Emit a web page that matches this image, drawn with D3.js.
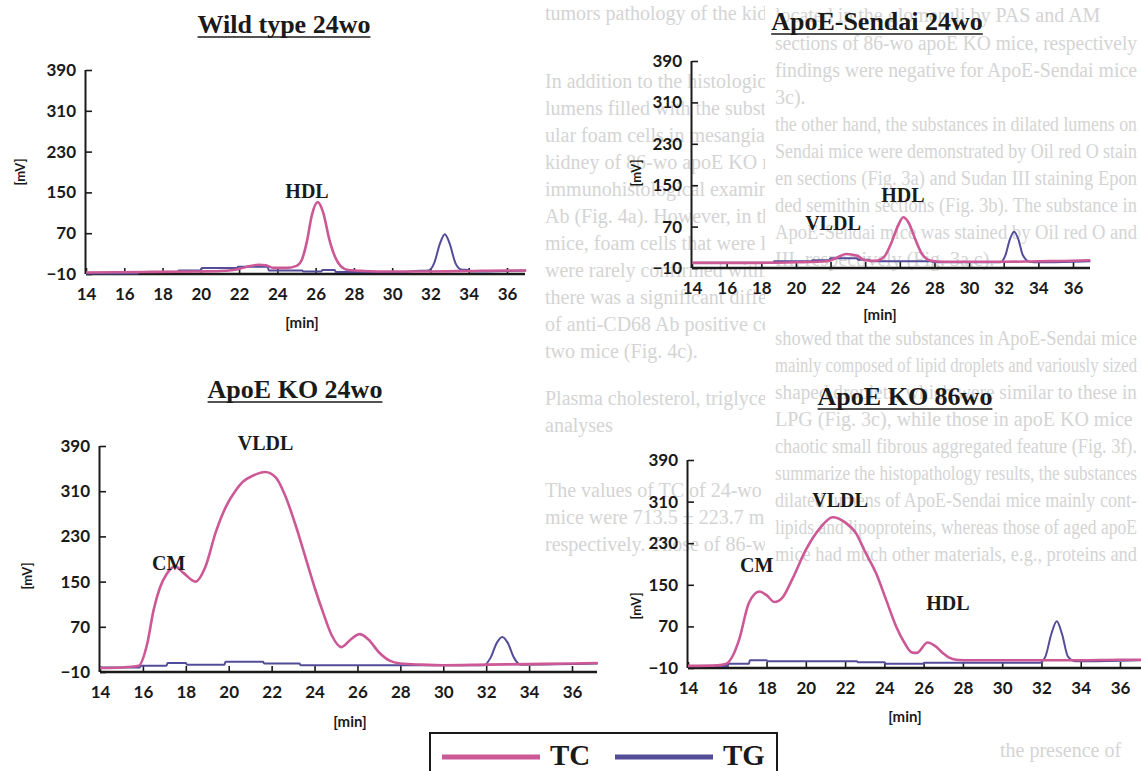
<!DOCTYPE html>
<html>
<head>
<meta charset="utf-8">
<title>Lipoprotein profiles - TC / TG</title>
<style>
  body { margin: 0; background: #fff; }
  svg { display: block; }
</style>
</head>
<body>
<script src="https://d3js.org/d3.v7.min.js"></script>
<script>
// ---- data (minutes / mV) ----
const xTicks = [14, 16, 18, 20, 22, 24, 26, 28, 30, 32, 34, 36];
const yTicks = [-10, 70, 150, 230, 310, 390];

// Wild type 24wo
const wtTcMin = [14, 17, 20, 21, 22, 22.5, 23, 23.4, 23.8, 24.5, 25, 25.3, 25.55, 25.8, 26.1, 26.4, 26.7, 27, 27.3, 27.7, 28.5, 30, 32, 34, 36, 37];
const wtTcMv  = [-7, -6, -5, -4, 0, 5, 8, 7, 2, 2, 6, 20, 55, 105, 131, 110, 60, 25, 6, -2, -4, -5, -5, -4, -3, -3];
const wtTgMin = [14, 16.7, 16.75, 18.8, 18.85, 20, 20.05, 21.9, 21.95, 23.5, 23.55, 25.3, 25.35, 26.3, 26.35, 27, 27.05, 30.5, 31.2, 31.9, 32.2, 32.5, 32.75, 33, 33.3, 33.6, 34, 34.1, 36, 37];
const wtTgMv  = [-9, -9, -6, -6, -3, -3, 2, 2, 4, 4, -3, -3, -5, -5, -2, -2, -6, -6, -4, -3, 12, 50, 68, 50, 12, -1, -2, -5, -4, -3];

// ApoE-Sendai 24wo
const sdTcMin = [14, 18, 20, 21.8, 22.3, 22.9, 23.5, 24, 24.6, 25.1, 25.5, 25.9, 26.2, 26.5, 26.9, 27.3, 27.8, 28.5, 30, 32, 34, 36, 37];
const sdTcMv  = [0, 0, 1, 3, 9, 17, 14, 5, 4, 12, 38, 72, 88, 78, 45, 16, 4, 2, 2, 2, 3, 4, 5];
const sdTgMin = [14, 18.7, 18.75, 20.9, 20.95, 21.9, 22, 23.5, 23.6, 24.2, 24.3, 27.8, 28, 31.8, 32.1, 32.35, 32.6, 32.85, 33.1, 33.5, 34, 36, 37];
const sdTgMv  = [0, 0, 3, 3, 5, 5, 9, 9, 6, 6, 3, 3, 1, 1, 15, 45, 60, 45, 15, 2, 1, 2, 3];

// ApoE KO 24wo
const ko24TcMin = [14, 15, 15.8, 16.2, 16.5, 16.8, 17.1, 17.5, 17.9, 18.45, 18.9, 19.4, 19.9, 20.3, 20.7, 21.1, 21.7, 22.2, 22.6, 23.1, 23.6, 24, 24.4, 24.8, 25.25, 25.7, 26.1, 26.5, 27, 27.5, 28, 29, 30, 32, 34, 36, 37.2];
const ko24TcMv  = [-3, -2, 1, 40, 100, 140, 163, 177, 165, 150, 175, 238, 285, 310, 328, 337, 344, 334, 305, 252, 190, 140, 95, 55, 34, 48, 57, 48, 25, 10, 5, 3, 2, 3, 4, 5, 6];
const ko24TgMin = [14, 15.85, 15.9, 17.1, 17.15, 18, 18.05, 19.8, 19.85, 21.6, 21.65, 23.3, 23.35, 28, 31.9, 32.2, 32.5, 32.75, 33, 33.3, 33.6, 36, 37.2];
const ko24TgMv  = [-2, -2, 1, 1, 6, 6, 3, 3, 8, 8, 5, 5, 2, 2, 2, 15, 42, 52, 42, 15, 3, 4, 5];

// ApoE KO 86wo
const ko86TcMin = [14, 15.5, 15.95, 16.3, 16.6, 17.1, 17.64, 18, 18.4, 18.8, 19.3, 20, 20.7, 21.37, 22, 22.56, 23, 23.58, 24.1, 24.6, 25, 25.4, 25.65, 26.2, 26.6, 26.97, 27.3, 27.64, 28.5, 30, 32, 34, 36, 37.1];
const ko86TcMv  = [-6, -5, -2, 15, 44, 115, 137, 130, 117, 125, 160, 217, 258, 280, 270, 249, 215, 172, 120, 70, 40, 20, 19, 39, 32, 19, 10, 6, 5, 5, 5, 5, 6, 6];
const ko86TgMin = [14, 16, 16.05, 17.1, 17.15, 18, 18.05, 22.6, 22.65, 24, 24.05, 26, 26.05, 31.9, 32.2, 32.5, 32.78, 33.05, 33.35, 33.75, 36, 37.1];
const ko86TgMv  = [-6, -6, -2, -2, 5, 5, 3, 3, 1, 1, -2, -2, 0, 0, 12, 55, 80, 55, 12, 3, 4, 5];

// peak names, placed in data units
const wtPeaks   = [{name: "HDL", min: 25.55, mv: 139}];
const sdPeaks   = [{name: "HDL", min: 26.18, mv: 117}, {name: "VLDL", min: 22.14, mv: 63}];
const ko24Peaks = [{name: "VLDL", min: 21.72, mv: 383}, {name: "CM", min: 17.2, mv: 170}];
const ko86Peaks = [{name: "CM", min: 17.5, mv: 174}, {name: "VLDL", min: 21.74, mv: 300}, {name: "HDL", min: 27.24, mv: 101}];

const seriesNames = ["TC", "TG"];

const tcColor = "#cc5896";
const tgColor = "#534c98";

let width = 1141, height = 771;
let svg = d3.select("body").append("svg")
  .attr("width", width)
  .attr("height", height);

svg.append("rect").attr("width", width).attr("height", height).attr("fill", "#fff");

// faint text from the printed page behind the figure
const bleedLeft = [
  [20, "tumors pathology of the kidney."],
  [88, "In addition to the histologic findings of dilated g"],
  [115, "lumens filled with the substance, the presence of g"],
  [142, "ular foam cells in mesangial areas was confirmed"],
  [169, "kidney of 86-wo apoE KO mice, as compared"],
  [196, "immunohistological examination with anti-mouse"],
  [223, "Ab (Fig. 4a). However, in the kidney of ApoE-"],
  [250, "mice, foam cells that were labeled by anti-CD68 Ab"],
  [277, "were rarely confirmed within glomerulus (Fig. 4b"],
  [304, "there was a significant differences in the average n"],
  [331, "of anti-CD68 Ab positive cells per glomerulus betw"],
  [358, "two mice (Fig. 4c)."],
  [405, "Plasma cholesterol, triglyceride, and lipoprotein"],
  [432, "analyses"],
  [497, "The values of TC of 24-wo apoE KO and ApoE"],
  [524, "mice were 713.5 ± 223.7 mg/dl and 208 ± 158"],
  [551, "respectively. Those of 86-wo apoE KO mice"]
];
const bleedRight = [
  [22, "located in the glomeruli by PAS and AM"],
  [50, "sections of 86-wo apoE KO mice, respectively"],
  [77, "findings were negative for ApoE-Sendai mice"],
  [104, "3c)."],
  [131, "the other hand, the substances in dilated lumens on"],
  [158, "Sendai mice were demonstrated by Oil red O stain"],
  [185, "en sections (Fig. 3a) and Sudan III staining Epon"],
  [212, "ded semithin sections (Fig. 3b). The substance in"],
  [239, "ApoE-Sendai mice was stained by Oil red O and"],
  [266, "III, respectively (Fig. 3a,c)."],
  [345, "showed that the substances in ApoE-Sendai mice"],
  [372, "mainly composed of lipid droplets and variously sized"],
  [399, "shaped droplets, which were similar to these in"],
  [426, "LPG (Fig. 3c), while those in apoE KO mice"],
  [453, "chaotic small fibrous aggregated feature (Fig. 3f)."],
  [480, "summarize the histopathology results, the substances"],
  [507, "dilated lumens of ApoE-Sendai mice mainly cont-"],
  [534, "lipids and lipoproteins, whereas those of aged apoE"],
  [561, "mice had much other materials, e.g., proteins and"]
];

let defs = svg.append("defs");
defs.append("clipPath").attr("id", "clipL").append("rect").attr("x", 540).attr("y", 0).attr("width", 225).attr("height", 600);

let bleed = svg.append("g")
  .style("font-family", "'Liberation Serif', 'DejaVu Serif', serif")
  .style("font-size", "20px")
  .attr("fill", "#d4d4d4");

bleed.append("g").attr("clip-path", "url(#clipL)")
  .selectAll("text").data(bleedLeft).join("text")
  .attr("x", 545).attr("y", d => d[0])
  .text(d => d[1]);

bleed.append("g")
  .selectAll("text").data(bleedRight).join("text")
  .attr("x", 775).attr("y", d => d[0])
  .text(d => d[1])
  .each(function () {
    // squeeze the longest lines so they stay inside the page
    if (this.getComputedTextLength() > 362) {
      d3.select(this).attr("textLength", 362).attr("lengthAdjust", "spacingAndGlyphs");
    }
  });

bleed.append("text").attr("x", 1000).attr("y", 757).text("the presence of");

// ---- panels ----
const panels = [
  {title: "Wild type 24wo", tx: 284, ty: 33, left: 86, right: 507, xEnd: 525, bottom: 274, top: 70,
   tc: [wtTcMin, wtTcMv], tg: [wtTgMin, wtTgMv], peaks: wtPeaks, mv: [20, 172], minLab: [302, 328]},
  {title: "ApoE-Sendai 24wo", tx: 877, ty: 30, left: 692, right: 1073, xEnd: 1090, bottom: 268, top: 61,
   tc: [sdTcMin, sdTcMv], tg: [sdTgMin, sdTgMv], peaks: sdPeaks, mv: [636, 173], minLab: [880, 320]},
  {title: "ApoE KO 24wo", tx: 295, ty: 398, left: 100, right: 572, xEnd: 597, bottom: 672, top: 446,
   tc: [ko24TcMin, ko24TcMv], tg: [ko24TgMin, ko24TgMv], peaks: ko24Peaks, mv: [27, 576], minLab: [350, 727]},
  {title: "ApoE KO 86wo", tx: 905, ty: 405, left: 688, right: 1120, xEnd: 1141, bottom: 668, top: 460,
   tc: [ko86TcMin, ko86TcMv], tg: [ko86TgMin, ko86TgMv], peaks: ko86Peaks, mv: [636, 606], minLab: [905, 722]}
];

const serif = "'Liberation Serif', 'Times New Roman', serif";
const sans = "Lato, 'Open Sans', 'DejaVu Sans', sans-serif";

panels.forEach(function (p) {
  let g = svg.append("g");

  let y = d3.scaleLinear().domain([-10, 390]).range([p.bottom, p.top]);
  let x0 = d3.scaleLinear().domain([14, 36]).range([p.left, p.right]);
  let xMax = x0.invert(p.xEnd);
  let x = d3.scaleLinear().domain([14, xMax]).range([p.left, p.xEnd]);

  // title, underlined
  let t = g.append("text")
    .attr("x", p.tx).attr("y", p.ty)
    .attr("text-anchor", "middle")
    .style("font-family", serif)
    .style("font-weight", "bold")
    .style("font-size", "26px")
    .attr("fill", "#1a1a1a")
    .text(p.title);
  let bb = t.node().getBBox();
  g.append("line")
    .attr("x1", bb.x).attr("x2", bb.x + bb.width)
    .attr("y1", p.ty + 4).attr("y2", p.ty + 4)
    .attr("stroke", "#1a1a1a").attr("stroke-width", 1.6);

  // y axis
  let yAxis = d3.axisLeft(y).tickValues(yTicks).tickSize(-6).tickPadding(10);
  let ya = g.append("g").attr("transform", `translate(${p.left},0)`).call(yAxis);
  ya.select(".domain").attr("d", `M-0.5,${p.top}V${p.bottom}`).attr("stroke", "#1a1a1a").attr("stroke-width", 2);
  ya.selectAll(".tick line").attr("stroke", "#1a1a1a").attr("stroke-width", 1.6);
  ya.selectAll(".tick text")
    .style("font-family", sans).style("font-weight", "bold").style("font-size", "17px")
    .attr("fill", "#1a1a1a");

  // x axis
  let xAxis = d3.axisBottom(x).tickValues(xTicks).tickSize(-6).tickPadding(14);
  let xa = g.append("g").attr("transform", `translate(0,${p.bottom})`).call(xAxis);
  xa.select(".domain").attr("d", `M${p.left},0H${p.xEnd}`).attr("stroke", "#1a1a1a").attr("stroke-width", 2.4);
  xa.selectAll(".tick line").attr("stroke", "#1a1a1a").attr("stroke-width", 1.6);
  xa.selectAll(".tick text")
    .style("font-family", sans).style("font-weight", "bold").style("font-size", "17px")
    .attr("fill", "#1a1a1a");

  // axis names
  g.append("text")
    .attr("transform", `translate(${p.mv[0]},${p.mv[1]}) rotate(-90)`)
    .attr("text-anchor", "middle").attr("dy", "0.35em")
    .style("font-family", sans).style("font-weight", "bold").style("font-size", "13px")
    .attr("fill", "#1a1a1a")
    .text("[mV]");
  g.append("text")
    .attr("x", p.minLab[0]).attr("y", p.minLab[1])
    .attr("text-anchor", "middle")
    .style("font-family", sans).style("font-weight", "bold").style("font-size", "15px")
    .attr("fill", "#1a1a1a")
    .text("[min]");

  // curves
  let line = d3.line()
    .x(d => x(d[0]))
    .y(d => y(d[1]))
    .curve(d3.curveMonotoneX);

  g.append("path")
    .datum(d3.zip(p.tg[0], p.tg[1]))
    .attr("d", line)
    .attr("fill", "none")
    .attr("stroke", tgColor)
    .attr("stroke-width", 2);

  g.append("path")
    .datum(d3.zip(p.tc[0], p.tc[1]))
    .attr("d", line)
    .attr("fill", "none")
    .attr("stroke", tcColor)
    .attr("stroke-width", 2.6);

  // peak names
  g.selectAll(".peak")
    .data(p.peaks)
    .join("text")
    .attr("class", "peak")
    .attr("x", d => x(d.min))
    .attr("y", d => y(d.mv))
    .attr("text-anchor", "middle")
    .style("font-family", serif).style("font-weight", "bold").style("font-size", "20px")
    .attr("fill", "#1a1a1a")
    .text(d => d.name);
});

// ---- legend ----
let legend = svg.append("g").attr("transform", "translate(430,733)");
legend.append("rect")
  .attr("x", 0).attr("y", 0).attr("width", 347).attr("height", 50)
  .attr("fill", "#fff").attr("stroke", "#1a1a1a").attr("stroke-width", 2);

const legendColors = [tcColor, tgColor];
seriesNames.forEach(function (name, i) {
  let item = legend.append("g").attr("transform", `translate(${12 + i * 173},24)`);
  item.append("line")
    .attr("x1", 0).attr("x2", 98).attr("y1", 0).attr("y2", 0)
    .attr("stroke", legendColors[i]).attr("stroke-width", 5);
  item.append("text")
    .attr("x", 108).attr("y", 8)
    .style("font-family", serif).style("font-weight", "bold").style("font-size", "29px")
    .attr("fill", "#1a1a1a")
    .text(name);
});
</script>
</body>
</html>
